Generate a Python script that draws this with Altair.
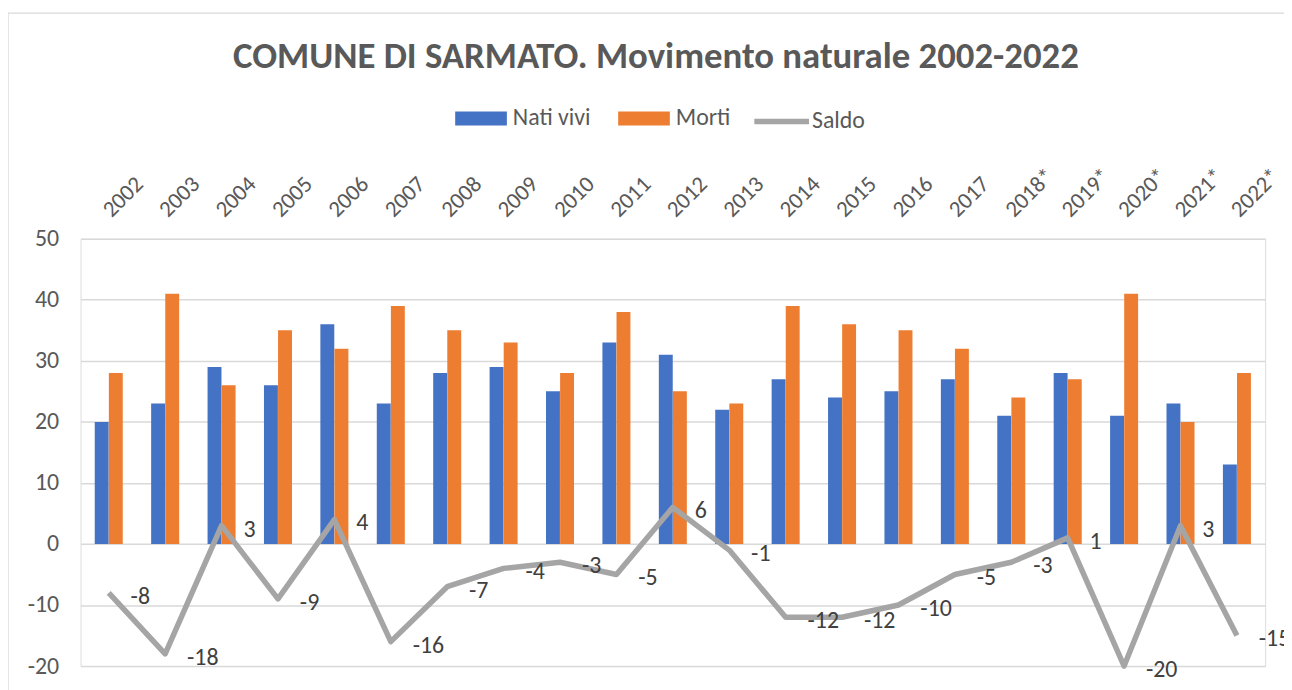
import altair as alt
import pandas as pd

years = ["2002", "2003", "2004", "2005", "2006", "2007", "2008", "2009", "2010", "2011",
         "2012", "2013", "2014", "2015", "2016", "2017", "2018*", "2019*", "2020*", "2021*", "2022*"]
nati_vivi = [20, 23, 29, 26, 36, 23, 28, 29, 25, 33, 31, 22, 27, 24, 25, 27, 21, 28, 21, 23, 13]
morti = [28, 41, 26, 35, 32, 39, 35, 33, 28, 38, 25, 23, 39, 36, 35, 32, 24, 27, 41, 20, 28]
saldo = [-8, -18, 3, -9, 4, -16, -7, -4, -3, -5, 6, -1, -12, -12, -10, -5, -3, 1, -20, 3, -15]
y_ticks = [-20, -10, 0, 10, 20, 30, 40, 50]

FONT = "Carlito, Calibri, Lato, sans-serif"
TXT = "#595959"

bars_df = pd.DataFrame(
    [{"anno": y, "serie": "Nati vivi", "valore": v} for y, v in zip(years, nati_vivi)]
    + [{"anno": y, "serie": "Morti", "valore": v} for y, v in zip(years, morti)]
)
line_df = pd.DataFrame({"anno": years, "saldo": saldo, "serie": ["Saldo"] * len(years),
                        "etichetta": [str(v) for v in saldo]})

x_enc = alt.X(
    "anno:N", sort=years, title=None,
    scale=alt.Scale(paddingInner=0.5, paddingOuter=0.25),
    axis=alt.Axis(orient="top", labelAngle=-45, labelAlign="left", labelBaseline="middle",
                  labelPadding=26, labelOffset=-2, labelFontSize=23, labelColor=TXT,
                  labelFont=FONT, domain=False, ticks=False, grid=False),
)
y_scale = alt.Scale(domain=[-20, 50], nice=False)
y_axis = alt.Axis(values=y_ticks, labelExpr="'' + datum.value", labelFontSize=24,
                  labelColor=TXT, labelFont=FONT, labelPadding=22, domain=False, ticks=False,
                  gridColor="#d9d9d9", gridWidth=1.5)

frame = alt.Chart(pd.DataFrame({"k": [0]})).mark_rect(
    fill="transparent", stroke="#d9d9d9", strokeWidth=1.3
).encode(x=alt.value(-73), x2=alt.value(1240), y=alt.value(-227), y2=alt.value(500))

bars = alt.Chart(bars_df).mark_bar(size=14).encode(
    x=x_enc,
    xOffset=alt.XOffset("serie:N", sort=["Nati vivi", "Morti"]),
    y=alt.Y("valore:Q", scale=y_scale, axis=y_axis, title=None),
    color=alt.Color("serie:N", sort=["Nati vivi", "Morti"],
                    scale=alt.Scale(domain=["Nati vivi", "Morti"], range=["#4472C4", "#ED7D31"]),
                    legend=alt.Legend(title=None, orient="none", legendX=377, legendY=-135,
                                      direction="horizontal", padding=0,
                                      symbolType="M-1,-0.5H2.714V0.5H-1Z",
                                      symbolSize=784, symbolStrokeWidth=0, labelFontSize=24,
                                      labelColor=TXT, labelFont=FONT, columnPadding=27,
                                      symbolOffset=0, labelOffset=30)),
)

line = alt.Chart(line_df).mark_line(strokeWidth=5.5, strokeJoin="round").encode(
    x=alt.X("anno:N", sort=years),
    y=alt.Y("saldo:Q", scale=y_scale),
    stroke=alt.Stroke("serie:N", scale=alt.Scale(domain=["Saldo"], range=["#A5A5A5"]),
                      legend=alt.Legend(title=None, orient="none", legendX=675, legendY=-148.5,
                                        padding=0, symbolType="stroke", symbolStrokeWidth=5.5,
                                        symbolSize=3025, labelFontSize=24, labelColor=TXT,
                                        labelFont=FONT, labelOffset=0, symbolOffset=0)),
)

labels = alt.Chart(line_df).mark_text(align="left", baseline="middle", dx=22, dy=4,
                                       fontSize=24, color="#404040", font=FONT).encode(
    x=alt.X("anno:N", sort=years),
    y=alt.Y("saldo:Q", scale=y_scale),
    text=alt.Text("etichetta:N"),
)

chart = alt.layer(frame, bars, line, labels).properties(
    width=1192, height=430,
    title=alt.TitleParams("COMUNE DI SARMATO. Movimento naturale 2002-2022", fontSize=37,
                          font=FONT, fontWeight="bold", color=TXT, anchor="middle",
                          baseline="alphabetic", offset=-93, dx=-17),
    autosize=alt.AutoSizeParams(type="none"),
    padding={"left": 73, "top": 230, "right": 19, "bottom": 40},
).configure_view(stroke=None).configure(background="white")

chart.save("out.html", embed_options={"renderer": "svg", "actions": False})
